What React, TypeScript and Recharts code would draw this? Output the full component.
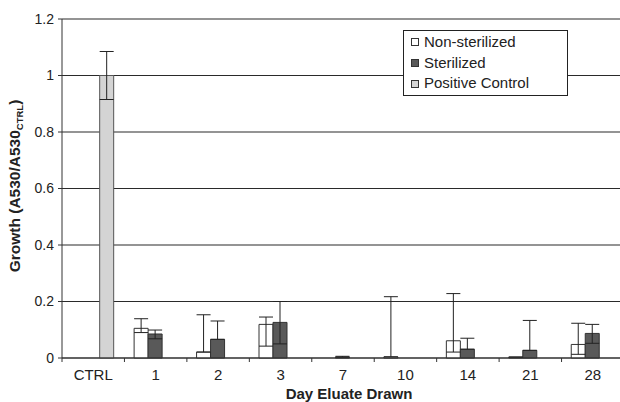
import React from "react";
import { BarChart, Bar, XAxis, YAxis, CartesianGrid, ErrorBar } from "recharts";

const categories = ["CTRL", "1", "2", "3", "7", "10", "14", "21", "28"];
const nonSterilized: (number | null)[] = [null, 0.105, 0.021, 0.119, 0, 0.004, 0.061, 0.003, 0.048];
const nonSterilizedErr: [number, number][] = [[0, 0], [0.015, 0.034], [0, 0.132], [0.077, 0.026], [0, 0], [0, 0.213], [0.04, 0.167], [0, 0], [0.035, 0.075]];
const sterilized: (number | null)[] = [null, 0.085, 0.066, 0.126, 0.003, 0, 0.031, 0.027, 0.087];
const sterilizedErr: [number, number][] = [[0, 0], [0.017, 0.014], [0, 0.065], [0.076, 0.074], [0, 0.003], [0, 0], [0, 0.039], [0, 0.106], [0.035, 0.032]];
const positiveControl: (number | null)[] = [1.0, null, null, null, null, null, null, null, null];
const positiveControlErr: [number, number][] = [[0.085, 0.085], [0, 0], [0, 0], [0, 0], [0, 0], [0, 0], [0, 0], [0, 0], [0, 0]];
const yTicks = [0, 0.2, 0.4, 0.6, 0.8, 1, 1.2];
const seriesNames = ["Non-sterilized", "Sterilized", "Positive Control"];

const data = categories.map((c, i) => ({
  day: c,
  ns: nonSterilized[i],
  nsErr: nonSterilizedErr[i],
  st: sterilized[i],
  stErr: sterilizedErr[i],
  pc: positiveControl[i],
  pcErr: positiveControlErr[i],
}));

const FONT = "Liberation Sans, Arial, sans-serif";
const CHART_W = 630;
const MARGIN = { top: 19, right: 6, bottom: 0, left: 0 };
const Y_W = 62;
const HALF_BAND = (CHART_W - MARGIN.left - MARGIN.right - Y_W) / categories.length / 2;
const COLORS = ["#ffffff", "#595959", "#d4d4d4"];

const XTick = (props: any) => {
  const { x, y, payload, index } = props;
  return (
    <g>
      <line x1={x - HALF_BAND} x2={x - HALF_BAND} y1={y} y2={y + 4} stroke="#333" />
      {index === categories.length - 1 && (
        <line x1={x + HALF_BAND} x2={x + HALF_BAND} y1={y} y2={y + 4} stroke="#333" />
      )}
      <text x={x} y={y + 22} textAnchor="middle" fontFamily={FONT} fontSize={15} fill="#222">
        {payload.value}
      </text>
    </g>
  );
};

const LegendBox = () => (
  <div
    style={{
      position: "absolute",
      left: 403,
      top: 30,
      border: "1px solid #222",
      background: "#fff",
      width: 165,
      height: 66,
      boxSizing: "border-box",
      padding: "1px 0 0 7px",
      fontFamily: FONT,
      fontSize: 15,
      color: "#222",
    }}
  >
    {seriesNames.map((name, i) => (
      <div key={name} style={{ display: "flex", alignItems: "center", height: 20.7, lineHeight: "20.7px" }}>
        <span
          style={{
            display: "inline-block",
            width: 6,
            height: 6,
            border: "1px solid #333",
            background: COLORS[i],
            marginRight: 5,
          }}
        />
        <span>{name}</span>
      </div>
    ))}
  </div>
);

const YTitle = () => {
  const cx = 19.5;
  const cy = 186;
  return (
    <text
      x={cx}
      y={cy}
      transform={`rotate(-90 ${cx} ${cy})`}
      textAnchor="middle"
      fontFamily={FONT}
      fontSize={15.5}
      fontWeight="bold"
      fill="#222"
    >
      Growth (A530/A530
      <tspan fontSize={9.5} dy={3}>CTRL</tspan>
      <tspan dy={-3}>)</tspan>
    </text>
  );
};

const XTitle = () => (
  <text x={349} y={398.5} textAnchor="middle" fontFamily={FONT} fontSize={15} fontWeight="bold" fill="#222">
    Day Eluate Drawn
  </text>
);

export default function App() {
  return (
    <div style={{ position: "absolute", left: 0, top: 0, width: 620, height: 402, overflow: "hidden", background: "#fff" }}>
      <BarChart
        width={CHART_W}
        height={402}
        data={data}
        margin={MARGIN}
        barCategoryGap="15.5%"
        barGap={0}
      >
        <CartesianGrid vertical={false} horizontal={true} stroke="#2a2a2a" strokeWidth={1.2} />
        <XAxis
          dataKey="day"
          height={44}
          axisLine={{ stroke: "#333" }}
          tickLine={false}
          tickSize={0}
          tickMargin={0}
          tick={<XTick />}
          interval={0}
          label={{ content: () => <XTitle /> }}
        />
        <YAxis
          width={Y_W}
          domain={[0, 1.2]}
          ticks={yTicks}
          axisLine={{ stroke: "#333" }}
          tickLine={{ stroke: "#333" }}
          tickSize={4}
          tickMargin={4}
          tick={{ fontFamily: FONT, fontSize: 14, fill: "#222" }}
          tickFormatter={(v: number) => String(v)}
          label={{ content: () => <YTitle /> }}
        />
        <Bar dataKey="ns" name={seriesNames[0]} fill={COLORS[0]} stroke="#333" strokeWidth={1} isAnimationActive={false}>
          <ErrorBar dataKey="nsErr" width={7} stroke="#222" strokeWidth={1} direction="y" />
        </Bar>
        <Bar dataKey="st" name={seriesNames[1]} fill={COLORS[1]} stroke="#333" strokeWidth={1} isAnimationActive={false}>
          <ErrorBar dataKey="stErr" width={7} stroke="#222" strokeWidth={1} direction="y" />
        </Bar>
        <Bar dataKey="pc" name={seriesNames[2]} fill={COLORS[2]} stroke="#555" strokeWidth={1} isAnimationActive={false}>
          <ErrorBar dataKey="pcErr" width={7} stroke="#222" strokeWidth={1} direction="y" />
        </Bar>
      </BarChart>
      <LegendBox />
    </div>
  );
}
